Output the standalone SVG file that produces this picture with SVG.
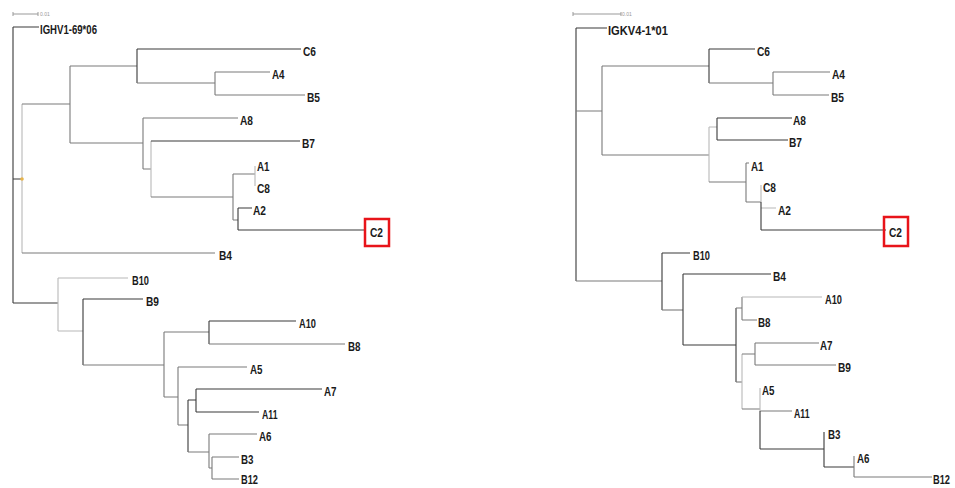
<svg xmlns="http://www.w3.org/2000/svg" width="955" height="488" viewBox="0 0 955 488">
<style>
.d{stroke:#3a3a3a;stroke-width:1.1;fill:none}
.m{stroke:#7a7a7a;stroke-width:1.1;fill:none}
.l{stroke:#b8b8b8;stroke-width:1.1;fill:none}
.t{font-family:"Liberation Sans",Arial,sans-serif;font-weight:bold;font-size:12.5px;fill:#1a1a1a}
.s{font-family:"Liberation Sans",Arial,sans-serif;font-size:5px;fill:#999}
.sb{stroke:#999;stroke-width:1;fill:none}
.box{stroke:#e8141a;stroke-width:2.5;fill:none}
</style>
<rect width="955" height="488" fill="#fff"/>
<g id="scale-left"><path class="sb" d="M13 14H38M13 12V16M38 12V16"/><text class="s" x="40" y="16">0.01</text></g>
<g id="scale-right"><path class="sb" d="M573 14H621M573 12V16M621 12V16"/><text class="s" x="622" y="16">0.01</text></g>
<g id="connectors">
<!-- left tree -->
<path class="d" d="M13 27V303M13 27H39M13 179H22M13 303H58"/>
<path class="l" d="M22 104V253"/>
<path class="m" d="M22 104H70M22 253H215"/>
<path class="m" d="M70 66V143M70 66H137M70 143H143"/>
<path class="d" d="M137 49V83M137 49H301"/>
<path class="m" d="M137 83H215M215 72V95M215 72H270M215 95H305"/>
<path class="m" d="M143 118V169M143 118H238M143 169H151"/>
<path class="l" d="M151 141V197"/>
<path class="d" d="M151 141H300"/>
<path class="m" d="M151 197H233M233 174V220M233 174H255M233 220H238"/>
<path class="l" d="M255 166V186"/>
<path class="d" d="M238 208V230M238 208H252M238 230H366"/>
<path class="l" d="M58 278V331M58 278H128M58 331H83"/>
<path class="d" d="M83 299V365M83 299H143"/>
<path class="m" d="M83 365H164M164 332V397M164 332H209M164 397H178"/>
<path class="d" d="M209 321V344M209 321H296"/>
<path class="m" d="M209 344H345"/>
<path class="m" d="M178 367V425M178 367H247M178 425H188"/>
<path class="d" d="M188 400V452M188 400H196M196 389V412M196 389H322M196 412H259"/>
<path class="m" d="M188 452H209M209 434V468M209 434H257M209 468H212M212 457V479M212 457H239M212 479H239"/>
<!-- right tree -->
<path class="d" d="M576 28V281M576 28H607"/>
<path class="m" d="M576 111H602M576 281H662"/>
<path class="m" d="M602 66V155M602 66H709M602 155H709"/>
<path class="d" d="M709 49V83M709 49H755"/>
<path class="m" d="M709 83H773M773 72V95M773 72H830M773 95H829"/>
<path class="l" d="M709 127V182M709 127H717"/>
<path class="d" d="M717 118V140M717 118H792M717 140H788"/>
<path class="m" d="M709 182H746M746 163V202M746 163H749M746 202H761"/>
<path class="l" d="M761 185V202M761 208H776"/>
<path class="d" d="M761 202V230M761 230H886"/>
<path class="d" d="M662 253V310M662 253H690"/>
<path class="m" d="M662 310H683"/>
<path class="d" d="M683 274V345M683 274H771M683 345H736M736 308V382"/>
<path class="m" d="M736 308H742M742 297V320M742 320H757"/>
<path class="l" d="M742 297H822"/>
<path class="m" d="M736 382H742"/>
<path class="l" d="M742 354V409"/>
<path class="m" d="M742 354H755M755 343V365M755 343H819M755 365H836"/>
<path class="m" d="M742 409H760M760 411H792"/>
<path class="l" d="M760 388V411"/>
<path class="d" d="M760 411V449M760 449H824"/>
<path class="d" d="M824 432V467M824 467H854"/>
<path class="m" d="M854 456V477M854 477H932"/>
</g>
<circle cx="22" cy="179" r="1.8" fill="#e8b44a"/>
<!-- left labels -->
<g id="L-IGHV1-69_06"><text class="t" x="40" y="34" textLength="57" lengthAdjust="spacingAndGlyphs">IGHV1-69*06</text></g>
<g id="L-C6"><text class="t" x="303" y="56" textLength="13" lengthAdjust="spacingAndGlyphs">C6</text></g>
<g id="L-A4"><text class="t" x="272" y="79" textLength="12.5" lengthAdjust="spacingAndGlyphs">A4</text></g>
<g id="L-B5"><text class="t" x="307" y="102" textLength="13" lengthAdjust="spacingAndGlyphs">B5</text></g>
<g id="L-A8"><text class="t" x="240" y="125" textLength="13" lengthAdjust="spacingAndGlyphs">A8</text></g>
<g id="L-B7"><text class="t" x="302" y="148" textLength="13" lengthAdjust="spacingAndGlyphs">B7</text></g>
<g id="L-A1"><text class="t" x="257" y="171" textLength="12.5" lengthAdjust="spacingAndGlyphs">A1</text></g>
<g id="L-C8"><text class="t" x="257" y="193" textLength="13" lengthAdjust="spacingAndGlyphs">C8</text></g>
<g id="L-A2"><text class="t" x="253" y="215" textLength="13" lengthAdjust="spacingAndGlyphs">A2</text></g>
<g id="L-C2"><rect class="box" x="365" y="219" width="24" height="27"/><text class="t" x="370" y="237" textLength="13" lengthAdjust="spacingAndGlyphs">C2</text></g>
<g id="L-B4"><text class="t" x="219" y="260" textLength="13" lengthAdjust="spacingAndGlyphs">B4</text></g>
<g id="L-B10"><text class="t" x="132" y="285" textLength="17" lengthAdjust="spacingAndGlyphs">B10</text></g>
<g id="L-B9"><text class="t" x="146" y="306" textLength="13" lengthAdjust="spacingAndGlyphs">B9</text></g>
<g id="L-A10"><text class="t" x="299" y="328" textLength="17" lengthAdjust="spacingAndGlyphs">A10</text></g>
<g id="L-B8"><text class="t" x="348" y="351" textLength="12.5" lengthAdjust="spacingAndGlyphs">B8</text></g>
<g id="L-A5"><text class="t" x="250" y="374" textLength="12.5" lengthAdjust="spacingAndGlyphs">A5</text></g>
<g id="L-A7"><text class="t" x="324" y="396" textLength="12.5" lengthAdjust="spacingAndGlyphs">A7</text></g>
<g id="L-A11"><text class="t" x="262" y="419" textLength="15.5" lengthAdjust="spacingAndGlyphs">A11</text></g>
<g id="L-A6"><text class="t" x="259" y="441" textLength="12.5" lengthAdjust="spacingAndGlyphs">A6</text></g>
<g id="L-B3"><text class="t" x="241" y="464" textLength="12.5" lengthAdjust="spacingAndGlyphs">B3</text></g>
<g id="L-B12"><text class="t" x="241" y="484" textLength="17" lengthAdjust="spacingAndGlyphs">B12</text></g>
<!-- right labels -->
<g id="R-IGKV4-1_01"><text class="t" x="608" y="35" textLength="60" lengthAdjust="spacingAndGlyphs">IGKV4-1*01</text></g>
<g id="R-C6"><text class="t" x="757" y="56" textLength="13" lengthAdjust="spacingAndGlyphs">C6</text></g>
<g id="R-A4"><text class="t" x="832" y="79" textLength="13" lengthAdjust="spacingAndGlyphs">A4</text></g>
<g id="R-B5"><text class="t" x="831" y="102" textLength="13" lengthAdjust="spacingAndGlyphs">B5</text></g>
<g id="R-A8"><text class="t" x="793" y="125" textLength="13" lengthAdjust="spacingAndGlyphs">A8</text></g>
<g id="R-B7"><text class="t" x="789" y="147" textLength="13" lengthAdjust="spacingAndGlyphs">B7</text></g>
<g id="R-A1"><text class="t" x="751" y="171" textLength="12.5" lengthAdjust="spacingAndGlyphs">A1</text></g>
<g id="R-C8"><text class="t" x="763" y="192" textLength="13" lengthAdjust="spacingAndGlyphs">C8</text></g>
<g id="R-A2"><text class="t" x="778" y="215" textLength="13" lengthAdjust="spacingAndGlyphs">A2</text></g>
<g id="R-C2"><rect class="box" x="884" y="217" width="24" height="29"/><text class="t" x="889" y="237" textLength="13" lengthAdjust="spacingAndGlyphs">C2</text></g>
<g id="R-B10"><text class="t" x="693" y="260" textLength="17" lengthAdjust="spacingAndGlyphs">B10</text></g>
<g id="R-B4"><text class="t" x="773" y="281" textLength="13" lengthAdjust="spacingAndGlyphs">B4</text></g>
<g id="R-A10"><text class="t" x="825" y="304" textLength="17" lengthAdjust="spacingAndGlyphs">A10</text></g>
<g id="R-B8"><text class="t" x="758" y="327" textLength="12.5" lengthAdjust="spacingAndGlyphs">B8</text></g>
<g id="R-A7"><text class="t" x="820" y="350" textLength="12.5" lengthAdjust="spacingAndGlyphs">A7</text></g>
<g id="R-B9"><text class="t" x="838" y="372" textLength="13" lengthAdjust="spacingAndGlyphs">B9</text></g>
<g id="R-A5"><text class="t" x="762" y="395" textLength="12.5" lengthAdjust="spacingAndGlyphs">A5</text></g>
<g id="R-A11"><text class="t" x="794" y="418" textLength="15.5" lengthAdjust="spacingAndGlyphs">A11</text></g>
<g id="R-B3"><text class="t" x="828" y="439" textLength="12.5" lengthAdjust="spacingAndGlyphs">B3</text></g>
<g id="R-A6"><text class="t" x="857" y="463" textLength="12.5" lengthAdjust="spacingAndGlyphs">A6</text></g>
<g id="R-B12"><text class="t" x="933" y="484" textLength="17" lengthAdjust="spacingAndGlyphs">B12</text></g>
</svg>
